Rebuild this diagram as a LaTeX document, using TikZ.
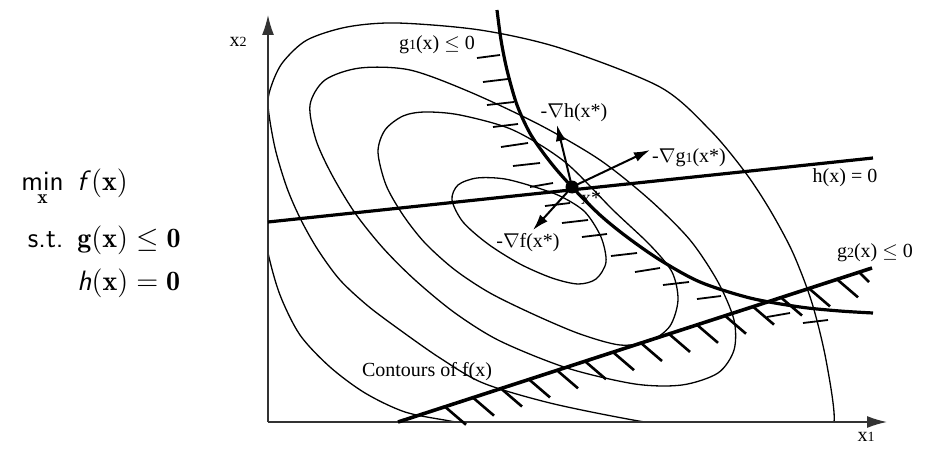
\documentclass[tikz,border=0pt]{standalone}
\usepackage{fontspec}
\usetikzlibrary{arrows.meta}
\newfontfamily\figfont{Liberation Serif}
\newcommand{\osn}[1]{{\fontsize{7}{7}\selectfont #1}}

\begin{document}
\begin{tikzpicture}[
  x=0.5pt, y=-0.5pt,
  contour/.style={line width=0.65pt},
  barrier/.style={line width=1.6pt},
  axis/.style={line width=0.75pt, draw=black!80, -{Latex[length=10pt,width=6pt]}},
  grad/.style={line width=1pt, -{Latex[length=8pt,width=5pt]}},
  hatchthin/.style={line width=0.9pt},
  hatchthick/.style={line width=1.3pt},
  lbl/.style={font=\figfont\fontsize{10}{12}\selectfont, inner sep=0pt},
  formula/.style={font=\sffamily\fontsize{14}{17}\selectfont, inner sep=0pt}
]
\useasboundingbox (0,0) rectangle (926,449);

% problem statement
\node[formula, anchor=base east] (minop) at (64,191) {$\displaystyle\mathop{\textsf{min}}\limits_{\mathbf{x}}$};
\node[formula, anchor=base west] (obj) at (77,191) {$\textsf{\textit{f}}(\mathbf{x})$};
\node[formula, anchor=base east] (st) at (64,247) {s.t.};
\node[formula, anchor=base west] (ineq) at (77,247) {$\mathbf{g}(\mathbf{x}) \leq \mathbf{0}$};
\node[formula, anchor=base west] (eq) at (77,290) {$\textsf{\textit{h}}(\mathbf{x}) = \mathbf{0}$};

% contours of f
\begin{scope}
  \clip (268,0) rectangle (926,422);
  \draw[contour] plot[smooth cycle] coordinates {(452,200) (458,185) (477,178) (505,179) (538,188) (562,197) (585,212) (601,237) (606,262) (596,279) (578,284) (552,278) (520,264) (488,244) (463,222)};
  \draw[contour] plot[smooth cycle] coordinates {(378,152) (385,130) (403,116) (425,112) (460,115) (513,130) (565,162) (613,210) (650,245) (672,272) (678,300) (670,326) (650,341) (620,345) (580,334) (535,315) (490,293) (455,270) (425,243) (403,215) (386,185)};
  \draw[contour] plot[smooth cycle] coordinates {(310,105) (325,80) (360,68) (410,70) (470,92) (540,125) (600,160) (650,200) (690,240) (718,282) (734,320) (734,350) (718,373) (682,385) (635,384) (567,368) (500,341) (455,313) (415,280) (383,248) (355,213) (332,175) (316,140)};
  \draw[contour] plot[smooth cycle] coordinates {(268,105) (272,84) (283,62) (307,40) (347,27) (397,23) (480,30) (560,48) (660,87) (710,130) (745,172) (770,210) (793,253) (812,303) (826,360) (834,422) (815,436) (760,437) (700,430) (633,420) (550,403) (483,383) (440,358) (400,330) (368,306) (340,280) (318,250) (301,220) (287,188) (275,148)};
  \draw[contour] plot[smooth] coordinates {(262,215) (268,253) (280,295) (300,335) (330,367) (365,393) (405,412) (450,421) (490,428)};
\end{scope}

% axes
\coordinate (o) at (268,422);
\coordinate (x1end) at (887,422);
\coordinate (x2end) at (268,15);
\draw[axis] (o) -- (x1end);
\draw[axis] (o) -- (x2end);
\node[lbl] (lblx1) at (866,437) {x\osn{1}};
\node[lbl] (lblx2) at (238,42) {x\osn{2}};

% constraint g1 with hatches
\node[lbl] (lblxs) at (591,198) {x*};
\draw[barrier] plot[smooth] coordinates {(497,10) (501,40) (507,70) (517,105) (531,135) (551,163) (572,187) (600,215) (627,237) (660,260) (700,282) (750,298) (800,307) (840,311) (873,313)};
\foreach \ax/\ay/\bx/\by in {477/58/500/55, 483/82/508/79, 487/105/514/102, 493/127/518/124, 501/147/528/143, 513/166/540/163, 530/187/553/183, 545/206/570/203, 562/223/588/220, 582/237/607/234, 611/256/637/253, 635/272/660/268, 663/285/689/282, 697/299/721/296, 767/317/790/313, 803/323/828/320}
  \draw[hatchthin] (\ax,\ay) -- (\bx,\by);
\node[lbl] (lblg1) at (437,45) {g\osn{1}(x) $\leq$ 0};

% constraint g2 with hatches
\coordinate (g2a) at (398,422);
\coordinate (g2b) at (872,268);
\draw[barrier, line width=1.8pt] (g2a) -- (g2b);
\foreach \i in {0,...,14} {
  \pgfmathsetmacro\hx{445+28*\i}
  \pgfmathsetmacro\hy{422-0.325*(\hx-398)}
  \draw[hatchthick] (\hx,\hy) -- ++(21,18);
}
\draw[hatchthick] (859,272) -- ++(10,10);
\node[lbl] (lblg2) at (875,253) {g\osn{2}(x) $\leq$ 0};

% constraint h
\coordinate (hleft) at (268,222);
\coordinate (hright) at (873,158);
\draw[barrier] (hleft) -- (hright);
\node[lbl] (lblh) at (845,178) {h(x) = 0};

% gradients at the optimum
\coordinate (tiph) at (557,125);
\coordinate (tipg) at (650,150);
\coordinate (tipf) at (533,230);
\node[circle, fill, inner sep=0pt, minimum size=6.5pt] (xstar) at (572,187) {};
\draw[grad] (xstar.center) -- (tiph);
\draw[grad] (xstar.center) -- (tipg);
\draw[grad] (xstar.center) -- (tipf);
\node[lbl] (lblgh) at (574,113) {-$\nabla$h(x*)};
\node[lbl] (lblgg) at (689,158) {-$\nabla$g\osn{1}(x*)};
\node[lbl] (lblgf) at (528,243) {-$\nabla$f(x*)};

\node[lbl] (lblcont) at (427,372) {Contours of f(x)};
\end{tikzpicture}
\end{document}
